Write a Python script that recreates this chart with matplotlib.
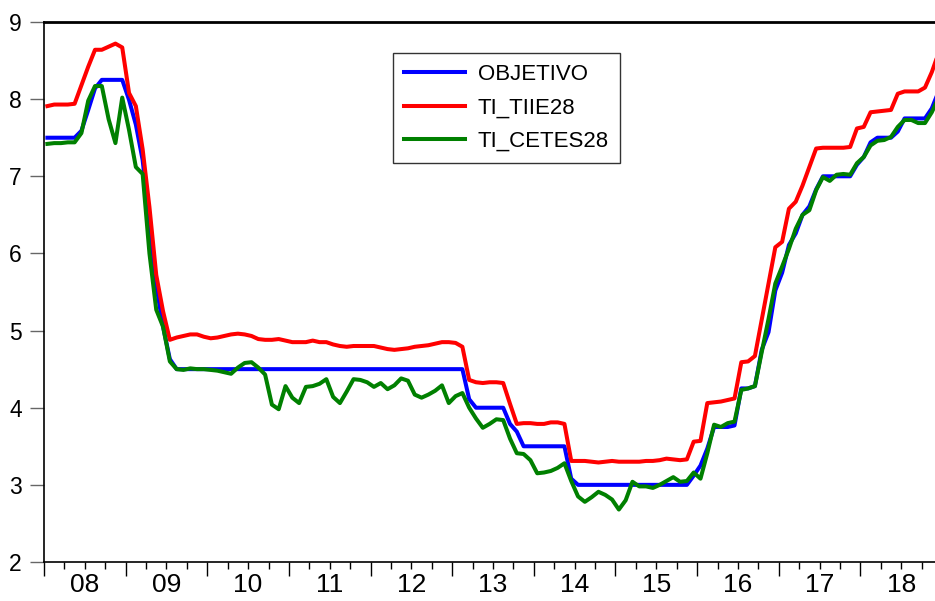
import numpy as np
import matplotlib
matplotlib.use("Agg")
import matplotlib.pyplot as plt

plt.rcParams['font.family'] = ['Liberation Sans', 'DejaVu Sans']

# monthly data, Jan 2008 - Dec 2018
objetivo = [7.50, 7.50, 7.50, 7.50, 7.50, 7.59, 7.86, 8.14, 8.25, 8.25, 8.25, 8.25,
            7.99, 7.67, 7.21, 6.40, 5.59, 5.05, 4.63, 4.50, 4.50, 4.50, 4.50, 4.50,
            4.50, 4.50, 4.50, 4.50, 4.50, 4.50, 4.50, 4.50, 4.50, 4.50, 4.50, 4.50,
            4.50, 4.50, 4.50, 4.50, 4.50, 4.50, 4.50, 4.50, 4.50, 4.50, 4.50, 4.50,
            4.50, 4.50, 4.50, 4.50, 4.50, 4.50, 4.50, 4.50, 4.50, 4.50, 4.50, 4.50,
            4.50, 4.50, 4.11, 4.00, 4.00, 4.00, 4.00, 4.00, 3.79, 3.69, 3.50, 3.50,
            3.50, 3.50, 3.50, 3.50, 3.50, 3.08, 3.00, 3.00, 3.00, 3.00, 3.00, 3.00,
            3.00, 3.00, 3.00, 3.00, 3.00, 3.00, 3.00, 3.00, 3.00, 3.00, 3.00, 3.12,
            3.25, 3.47, 3.75, 3.75, 3.75, 3.77, 4.25, 4.25, 4.28, 4.75, 4.98, 5.52,
            5.75, 6.11, 6.26, 6.50, 6.61, 6.83, 7.00, 7.00, 7.00, 7.00, 7.00, 7.15,
            7.25, 7.44, 7.50, 7.50, 7.50, 7.58, 7.75, 7.75, 7.75, 7.75, 7.88, 8.10]

tiie28 = [7.91, 7.93, 7.93, 7.93, 7.94, 8.18, 8.42, 8.64, 8.64, 8.68, 8.72, 8.67,
          8.08, 7.91, 7.35, 6.60, 5.72, 5.25, 4.88, 4.91, 4.93, 4.95, 4.95, 4.92,
          4.90, 4.91, 4.93, 4.95, 4.96, 4.95, 4.93, 4.89, 4.88, 4.88, 4.89, 4.87,
          4.85, 4.85, 4.85, 4.87, 4.85, 4.85, 4.82, 4.80, 4.79, 4.80, 4.80, 4.80,
          4.80, 4.78, 4.76, 4.75, 4.76, 4.77, 4.79, 4.80, 4.81, 4.83, 4.85, 4.85,
          4.84, 4.79, 4.36, 4.33, 4.32, 4.33, 4.33, 4.32, 4.05, 3.79, 3.80, 3.80,
          3.79, 3.79, 3.81, 3.81, 3.79, 3.31, 3.31, 3.31, 3.30, 3.29, 3.30, 3.31,
          3.30, 3.30, 3.30, 3.30, 3.31, 3.31, 3.32, 3.34, 3.33, 3.32, 3.33, 3.56,
          3.57, 4.06, 4.07, 4.08, 4.10, 4.12, 4.59, 4.60, 4.67, 5.14, 5.61, 6.08,
          6.15, 6.58, 6.67, 6.88, 7.12, 7.36, 7.37, 7.37, 7.37, 7.37, 7.38, 7.62,
          7.64, 7.83, 7.84, 7.85, 7.86, 8.07, 8.10, 8.10, 8.10, 8.15, 8.35, 8.60]

cetes28 = [7.42, 7.43, 7.43, 7.44, 7.44, 7.56, 7.98, 8.17, 8.17, 7.74, 7.43, 8.02,
           7.60, 7.12, 7.03, 6.00, 5.27, 5.05, 4.60, 4.50, 4.49, 4.51, 4.50, 4.50,
           4.49, 4.48, 4.46, 4.44, 4.52, 4.58, 4.59, 4.52, 4.43, 4.04, 3.98, 4.28,
           4.13, 4.06, 4.27, 4.28, 4.31, 4.37, 4.14, 4.06, 4.21, 4.37, 4.36, 4.33,
           4.27, 4.32, 4.24, 4.29, 4.38, 4.35, 4.17, 4.13, 4.17, 4.22, 4.29, 4.06,
           4.15, 4.19, 4.00, 3.86, 3.74, 3.79, 3.85, 3.84, 3.60, 3.41, 3.40, 3.32,
           3.15, 3.16, 3.18, 3.22, 3.28, 3.05, 2.85, 2.78, 2.84, 2.91, 2.87, 2.81,
           2.68, 2.80, 3.04, 2.98, 2.98, 2.96, 3.00, 3.05, 3.10, 3.04, 3.05, 3.16,
           3.08, 3.41, 3.78, 3.75, 3.80, 3.82, 4.23, 4.25, 4.28, 4.72, 5.15, 5.61,
           5.83, 6.06, 6.32, 6.50, 6.56, 6.82, 6.99, 6.94, 7.02, 7.03, 7.02, 7.17,
           7.25, 7.40, 7.46, 7.47, 7.51, 7.64, 7.73, 7.73, 7.69, 7.69, 7.83, 8.02]

year_labels = ['08', '09', '10', '11', '12', '13', '14', '15', '16', '17', '18']
y_ticks = [2, 3, 4, 5, 6, 7, 8, 9]

x = np.arange(len(objetivo))
n_years = len(year_labels)

fig = plt.figure(figsize=(9.35, 6.01), dpi=100)
ax = fig.add_axes([44 / 935, 39 / 601, 898 / 935, 540 / 601])

ax.plot(x, objetivo, color='#0000ff', lw=2.9, label='OBJETIVO')
ax.plot(x, tiie28, color='#ff0000', lw=2.9, label='TI_TIIE28')
ax.plot(x, cetes28, color='#008000', lw=2.9, label='TI_CETES28')

ax.set_xlim(-0.5, len(x) - 0.5)
ax.set_ylim(2, 9)

# year boundaries as major ticks, quarters as minor ticks (year label in mid-year)
ax.set_xticks([-0.5 + 12 * k for k in range(n_years + 1)])
ax.set_xticklabels([])
minor = [-0.5 + 3 * k for k in range(4 * n_years) if k % 4 != 0]
minor_lab = [year_labels[k // 4] if k % 4 == 2 else '' for k in range(4 * n_years) if k % 4 != 0]
ax.set_xticks(minor, minor=True)
ax.set_xticklabels(minor_lab, minor=True, fontsize=19)
ax.tick_params(axis='x', which='major', length=10, width=1, direction='out')
ax.tick_params(axis='x', which='minor', length=5, width=1, direction='out', pad=3)

ax.set_yticks(y_ticks)
ax.tick_params(axis='y', length=10, width=1, color='#666666', labelsize=16.5, pad=6)

for side in ['left', 'bottom']:
    ax.spines[side].set_linewidth(1.2)
ax.spines['top'].set_linewidth(2)

leg = ax.legend(loc='upper left', bbox_to_anchor=(393 / 935, 1 - 53 / 601),
                bbox_transform=fig.transFigure, borderaxespad=0, fontsize=16,
                frameon=True, fancybox=False, edgecolor='#333333', framealpha=1,
                handlelength=2.75, handletextpad=0.56, labelspacing=0.55,
                borderpad=0.5)
leg.get_frame().set_linewidth(1)

fig.savefig('out.png', dpi=100)
